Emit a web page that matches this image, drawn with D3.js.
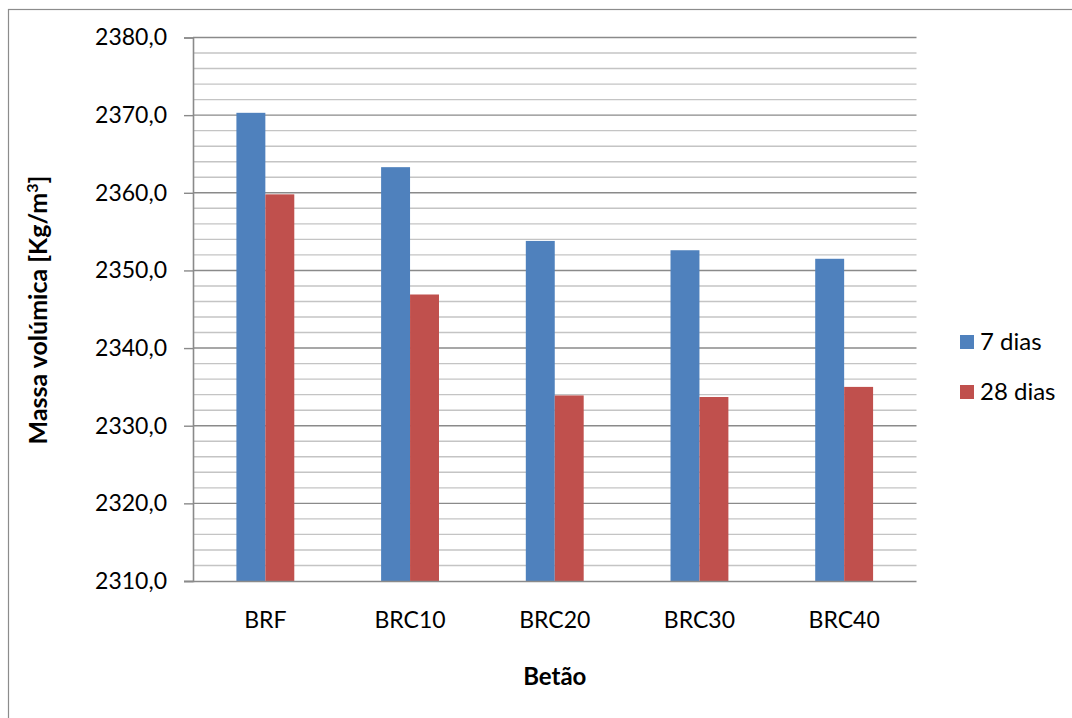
<!DOCTYPE html>
<html>
<head>
<meta charset="utf-8">
<script src="https://cdn.jsdelivr.net/npm/d3@7"></script>
<style>
  html, body { margin: 0; padding: 0; background: #fff; }
  svg { display: block; }
  text { font-family: Lato, "Open Sans", sans-serif; fill: #000; }
</style>
</head>
<body>
<svg id="chart" width="1072" height="718"></svg>
<script>
// Densidade (massa volúmica) por tipo de betão, aos 7 e 28 dias
const categories = ["BRF", "BRC10", "BRC20", "BRC30", "BRC40"];
const seriesNames = ["7 dias", "28 dias"];
const dias7 = [2370.3, 2363.3, 2353.8, 2352.6, 2351.5];
const dias28 = [2359.8, 2346.9, 2333.9, 2333.7, 2335.0];
const seriesColors = ["#4F81BD", "#C0504D"];
const yDomain = [2310, 2380];
const majorTicks = [2310, 2320, 2330, 2340, 2350, 2360, 2370, 2380];
const minorStep = 2;

const svg = d3.select("#chart");
const plot = { left: 193, right: 916.5, top: 37.5, bottom: 581 };

// outer chart frame
svg.append("rect")
  .attr("x", 8.5).attr("y", 9.5)
  .attr("width", 1100).attr("height", 800)
  .attr("fill", "none").attr("stroke", "#8c8c8c").attr("stroke-width", 1.2);

const x = d3.scaleBand().domain(categories).range([plot.left, plot.right]).paddingInner(0).paddingOuter(0);
const y = d3.scaleLinear().domain(yDomain).range([plot.bottom, plot.top]);
const inner = d3.scaleBand().domain(seriesNames).range([0, x.bandwidth()]).paddingInner(0).paddingOuter(1.5);

// minor gridlines
const minorVals = d3.range(yDomain[0], yDomain[1] + 0.001, minorStep).filter(v => !majorTicks.includes(v));
svg.append("g").selectAll("line").data(minorVals).join("line")
  .attr("x1", plot.left).attr("x2", plot.right)
  .attr("y1", d => y(d)).attr("y2", d => y(d))
  .attr("stroke", "#c4c4c4").attr("stroke-width", 1.4);

// major gridlines
svg.append("g").selectAll("line").data(majorTicks.slice(1)).join("line")
  .attr("x1", plot.left).attr("x2", plot.right)
  .attr("y1", d => y(d)).attr("y2", d => y(d))
  .attr("stroke", "#8a8a8a").attr("stroke-width", 1.4);

// bars
const data = categories.map((c, i) => ({ cat: c, values: [dias7[i], dias28[i]] }));
const groups = svg.append("g").selectAll("g").data(data).join("g")
  .attr("transform", d => `translate(${x(d.cat)},0)`);
groups.selectAll("rect").data(d => d.values.map((v, j) => ({ name: seriesNames[j], v, j }))).join("rect")
  .attr("x", d => inner(d.name))
  .attr("width", inner.bandwidth())
  .attr("y", d => y(d.v))
  .attr("height", d => y(yDomain[0]) - y(d.v))
  .attr("fill", d => seriesColors[d.j]);

// y axis
const yAxis = d3.axisLeft(y).tickValues(majorTicks).tickSize(9).tickPadding(17)
  .tickFormat(d => d3.format(".1f")(d).replace(".", ","));
const gy = svg.append("g").attr("transform", `translate(${plot.left},0)`).call(yAxis);
gy.select(".domain").attr("stroke", "#8a8a8a").attr("stroke-width", 1.6);
gy.selectAll(".tick line").attr("stroke", "#8a8a8a").attr("stroke-width", 1.4);
gy.selectAll(".tick text").attr("font-size", 23).attr("font-family", "Lato, sans-serif").attr("fill", "#000");

// x axis
const xAxis = d3.axisBottom(x).tickSize(0).tickPadding(31);
const gx = svg.append("g").attr("transform", `translate(0,${plot.bottom})`).call(xAxis);
gx.select(".domain").attr("stroke", "#8a8a8a").attr("stroke-width", 1.6)
  .attr("d", `M${plot.left - 9},0.5H${plot.right}`);
gx.selectAll(".tick text").attr("font-size", 23).attr("font-family", "Lato, sans-serif").attr("fill", "#000");

// axis titles
svg.append("text")
  .attr("x", (plot.left + plot.right) / 2).attr("y", 685)
  .attr("text-anchor", "middle").attr("font-size", 24).attr("font-weight", "bold")
  .text("Betão");
svg.append("text")
  .attr("transform", "translate(47,310) rotate(-90)")
  .attr("text-anchor", "middle").attr("font-size", 25).attr("font-weight", "bold")
  .html("Massa volúmica [Kg/m<tspan dy='-9' font-size='16'>3</tspan><tspan dy='9'>]</tspan>");

// legend
const legend = svg.append("g").attr("transform", "translate(960,335)");
const items = legend.selectAll("g").data(seriesNames).join("g")
  .attr("transform", (d, i) => `translate(0,${i * 50})`);
items.append("rect").attr("width", 14).attr("height", 14)
  .attr("fill", (d, i) => seriesColors[i]);
items.append("text").attr("x", 20).attr("y", 15)
  .attr("font-size", 24).text(d => d);
</script>
</body>
</html>
